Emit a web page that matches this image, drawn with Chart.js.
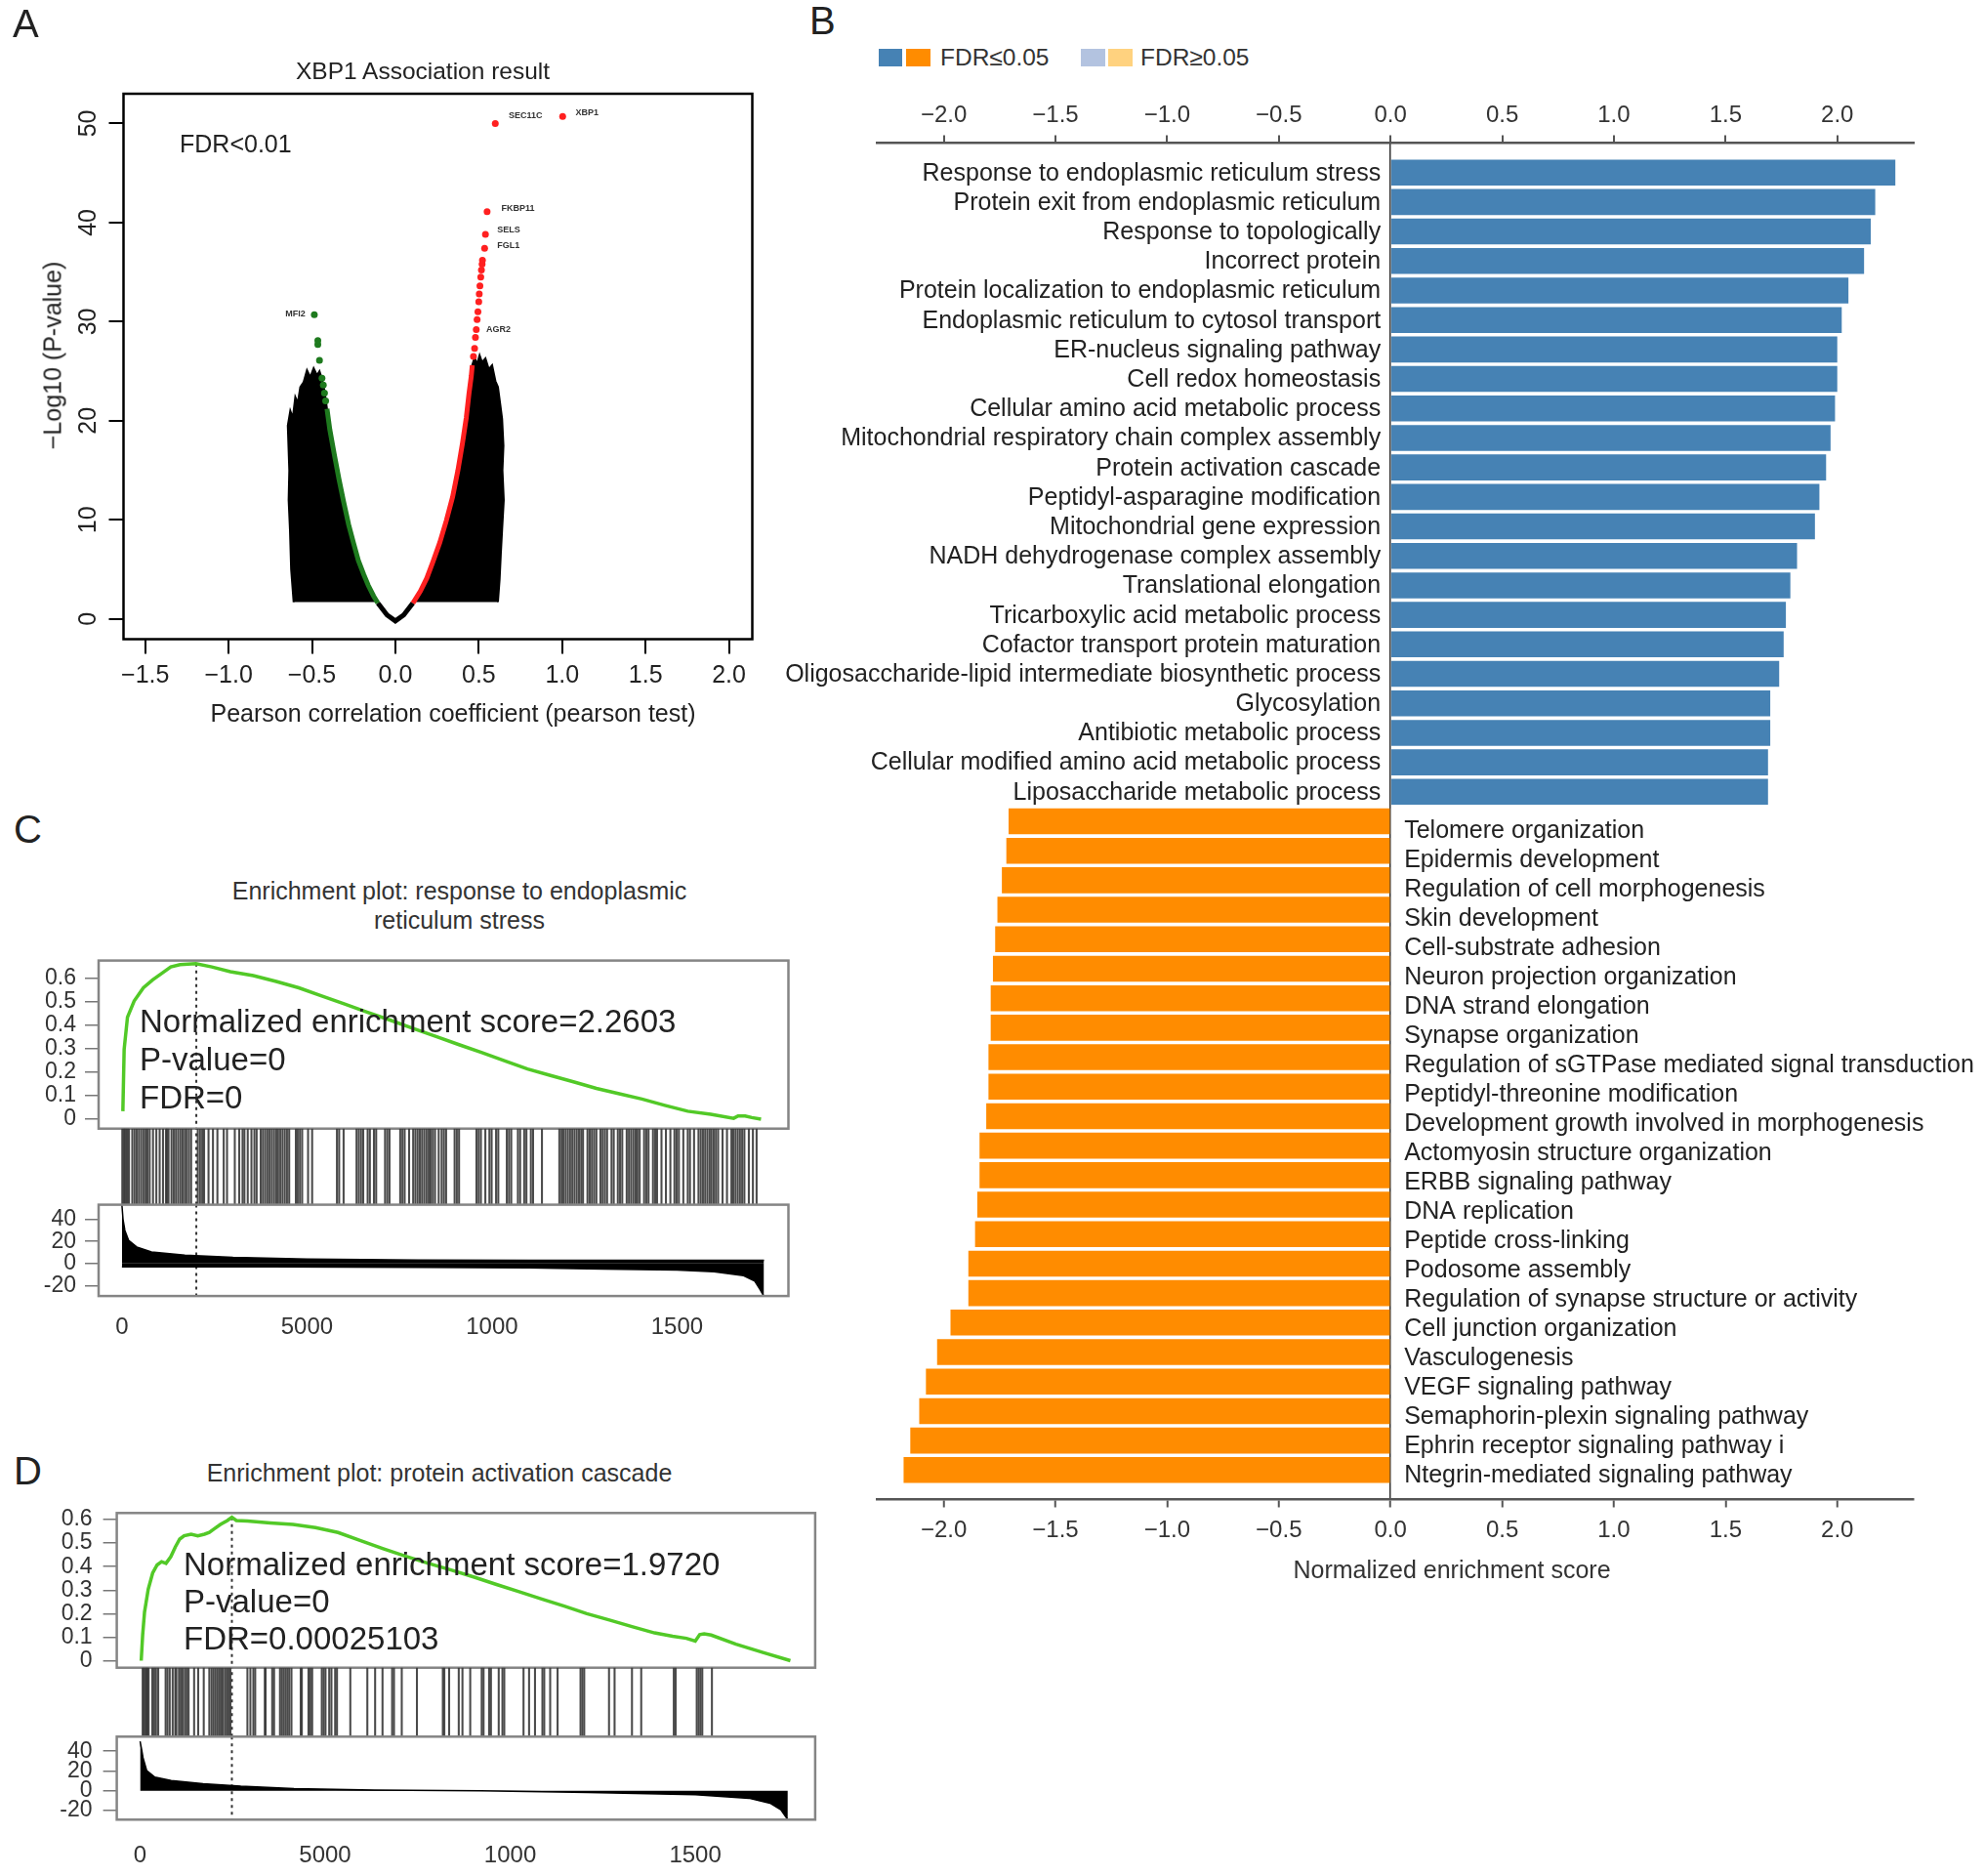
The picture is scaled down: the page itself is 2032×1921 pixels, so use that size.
<!DOCTYPE html>
<html><head><meta charset="utf-8">
<script src="https://cdn.jsdelivr.net/npm/chart.js@4.4.1/dist/chart.umd.min.js"></script>
<style>
html,body{margin:0;padding:0;background:#fff;}
#root{position:relative;width:2032px;height:1921px;overflow:hidden;background:#fff;font-family:'Liberation Sans',Arial,Helvetica,sans-serif;color:#222;}
canvas{position:absolute;}
.t{position:absolute;white-space:nowrap;line-height:1;}
.sq{position:absolute;}
</style></head><body><div id="root"></div>
<script>
// ---------------- DATA ----------------
// Panel A: volcano plot (XBP1 association)
const aXTicks = [-1.5, -1.0, -0.5, 0, 0.5, 1.0, 1.5, 2.0];
const aYTicks = [0, 10, 20, 30, 40, 50];
const aLeftCloudX = [-0.61, -0.625, -0.632, -0.64, -0.636, -0.645, -0.63, -0.615, -0.6, -0.585, -0.57, -0.55, -0.53, -0.51, -0.49, -0.47, -0.455, -0.44, -0.425, -0.41, -0.393, -0.365, -0.338, -0.31, -0.28, -0.25, -0.222, -0.19, -0.163, -0.13, -0.115];
const aLeftCloudY = [1.7, 5, 9, 12, 15, 19.5, 21, 20.3, 22.4, 21.8, 23.4, 23.9, 25.1, 24.4, 25.3, 24.6, 25.0, 24.2, 23, 21.2, 19.1, 16.5, 14.1, 11.8, 9.5, 7.6, 5.9, 4.5, 3.4, 2.3, 1.7];
const aRightCloudX = [0.115, 0.15, 0.188, 0.226, 0.266, 0.305, 0.343, 0.375, 0.402, 0.425, 0.441, 0.455, 0.461, 0.475, 0.49, 0.505, 0.52, 0.54, 0.56, 0.58, 0.60, 0.615, 0.63, 0.64, 0.648, 0.642, 0.65, 0.64, 0.632, 0.625, 0.615];
const aRightCloudY = [1.7, 2.8, 4.1, 5.8, 7.7, 9.9, 12.3, 15, 17.7, 20.3, 22.7, 24.5, 25.6, 26.4, 25.7, 26.6, 25.9, 26.3, 25.2, 25.6, 24.0, 23.4, 21.5, 20.2, 17.5, 15, 12, 9, 6.5, 4, 1.7];
const aVertexX = [-0.105, -0.05, 0, 0.05, 0.105];
const aVertexY = [1.6, 0.4, -0.2, 0.4, 1.6];
const aGreenLineX = [-0.105, -0.13, -0.163, -0.19, -0.222, -0.25, -0.28, -0.31, -0.338, -0.365, -0.393, -0.41];
const aGreenLineY = [1.6, 2.3, 3.4, 4.5, 5.9, 7.6, 9.5, 11.8, 14.1, 16.5, 19.1, 21.2];
const aGreenDotX = [-0.418, -0.425, -0.432, -0.44, -0.455, -0.465, -0.465, -0.486];
const aGreenDotY = [22.0, 22.8, 23.6, 24.3, 26.1, 27.7, 28.1, 30.7];
const aRedLineX = [0.105, 0.15, 0.188, 0.226, 0.266, 0.305, 0.343, 0.375, 0.402, 0.425, 0.441, 0.455, 0.461];
const aRedLineY = [1.6, 2.8, 4.1, 5.8, 7.7, 9.9, 12.3, 15, 17.7, 20.3, 22.7, 24.5, 25.6];
const aRedDotX = [0.468, 0.475, 0.48, 0.485, 0.49, 0.495, 0.5, 0.503, 0.507, 0.512, 0.516, 0.52, 0.522, 0.535, 0.54, 0.55, 0.599, 1.003];
const aRedDotY = [26.5, 27.3, 28.4, 29.2, 30.2, 31.0, 32.0, 32.8, 33.6, 34.5, 35.2, 35.8, 36.2, 37.4, 38.8, 41.1, 50.0, 50.7];
const aGeneNames = ['SEC11C', 'XBP1', 'FKBP11', 'SELS', 'FGL1', 'AGR2', 'MFI2'];
const aGeneX = [0.68, 1.08, 0.635, 0.61, 0.61, 0.545, -0.54];
const aGeneY = [50.8, 51.05, 41.4, 39.3, 37.7, 29.2, 30.8];

// Panel B: normalized enrichment scores
const posTerms = ['Response to endoplasmic reticulum stress', 'Protein exit from endoplasmic reticulum', 'Response to topologically', 'Incorrect protein', 'Protein localization to endoplasmic reticulum', 'Endoplasmic reticulum to cytosol transport', 'ER-nucleus signaling pathway', 'Cell redox homeostasis', 'Cellular amino acid metabolic process', 'Mitochondrial respiratory chain complex assembly', 'Protein activation cascade', 'Peptidyl-asparagine modification', 'Mitochondrial gene expression', 'NADH dehydrogenase complex assembly', 'Translational elongation', 'Tricarboxylic acid metabolic process', 'Cofactor transport protein maturation', 'Oligosaccharide-lipid intermediate biosynthetic process', 'Glycosylation', 'Antibiotic metabolic process', 'Cellular modified amino acid metabolic process', 'Liposaccharide metabolic process'];
const posNES = [2.26, 2.17, 2.15, 2.12, 2.05, 2.02, 2.00, 2.00, 1.99, 1.97, 1.95, 1.92, 1.90, 1.82, 1.79, 1.77, 1.76, 1.74, 1.70, 1.70, 1.69, 1.69];
const negTerms = ['Telomere organization', 'Epidermis development', 'Regulation of cell morphogenesis', 'Skin development', 'Cell-substrate adhesion', 'Neuron projection organization', 'DNA strand elongation', 'Synapse organization', 'Regulation of sGTPase mediated signal transduction', 'Peptidyl-threonine modification', 'Development growth involved in morphogenesis', 'Actomyosin structure organization', 'ERBB signaling pathway', 'DNA replication', 'Peptide cross-linking', 'Podosome assembly', 'Regulation of synapse structure or activity', 'Cell junction organization', 'Vasculogenesis', 'VEGF signaling pathway', 'Semaphorin-plexin signaling pathway', 'Ephrin receptor signaling pathway i', 'Ntegrin-mediated signaling pathway'];
const negNES = [-1.71, -1.72, -1.74, -1.76, -1.77, -1.78, -1.79, -1.79, -1.80, -1.80, -1.81, -1.84, -1.84, -1.85, -1.86, -1.89, -1.89, -1.97, -2.03, -2.08, -2.11, -2.15, -2.18];
const bTicks = [-2.0, -1.5, -1.0, -0.5, 0, 0.5, 1.0, 1.5, 2.0];

// Panels C & D: GSEA enrichment plots
const esTicks = [0, 0.1, 0.2, 0.3, 0.4, 0.5, 0.6];
const rankTicks = [-20, 0, 20, 40];
const rankXTicks = [0, 500, 1000, 1500];
const rankXLabels = ['0', '5000', '1000', '1500'];

const cESX = [2.5, 6, 15, 33, 58, 83, 108, 132, 157, 200, 243, 293, 355, 417, 478, 540, 602, 664, 726, 787, 849, 911, 973, 1035, 1096, 1158, 1220, 1282, 1344, 1405, 1467, 1529, 1591, 1653, 1665, 1684, 1702, 1727];
const cESY = [0.034, 0.297, 0.434, 0.503, 0.559, 0.593, 0.621, 0.648, 0.658, 0.662, 0.648, 0.628, 0.611, 0.586, 0.559, 0.524, 0.490, 0.455, 0.421, 0.386, 0.352, 0.317, 0.283, 0.248, 0.214, 0.186, 0.159, 0.131, 0.108, 0.086, 0.059, 0.034, 0.021, 0.004, 0.014, 0.014, 0.007, 0.0];
const cHits = [1,5,8,12,15,19,28,34,40,46,52,58,64,69,75,84,93,102,111,119,122,126,134,140,146,152,158,164,170,175,181,187,205,211,217,222,234,246,258,275,284,305,317,326,331,340,350,358,364,375,381,387,393,399,405,411,417,422,428,434,440,446,452,470,475,481,487,503,514,581,587,599,634,640,646,652,664,670,681,687,711,717,723,752,758,764,776,787,793,799,805,811,817,823,829,834,840,846,856,864,870,876,899,905,911,958,964,970,982,993,999,1011,1017,1040,1046,1052,1070,1076,1087,1093,1105,1111,1135,1182,1188,1193,1199,1205,1211,1217,1223,1229,1235,1241,1246,1258,1264,1270,1276,1282,1293,1299,1305,1311,1323,1329,1340,1346,1352,1364,1370,1376,1382,1388,1393,1399,1411,1417,1423,1435,1441,1446,1458,1470,1482,1493,1499,1505,1517,1529,1535,1546,1558,1564,1570,1576,1582,1588,1593,1599,1605,1611,1623,1635,1647,1652,1658,1664,1670,1676,1682,1694,1705,1715];
const cRankHighX = [0, 3, 8, 18, 40, 80, 170, 300, 500, 800, 1100, 1400, 1735];
const cRankHighY = [53, 40, 30, 21, 15, 10.5, 7.5, 5.5, 4, 3.2, 3, 3, 3];
const cRankLowX = [0, 400, 800, 1100, 1300, 1500, 1600, 1680, 1710, 1725, 1735];
const cRankLowY = [-3, -3, -3.5, -4, -5, -6, -7.5, -11, -16, -24, -30];
const cPeakX = 201, cPeakES = 0.662;

const dESX = [3, 7, 12, 22, 34, 46, 58, 70, 83, 95, 107, 119, 138, 156, 174, 187, 199, 217, 236, 248, 260, 290, 352, 413, 474, 535, 596, 657, 718, 779, 840, 901, 963, 1024, 1085, 1146, 1207, 1268, 1329, 1390, 1439, 1476, 1500, 1512, 1524, 1543, 1610, 1683, 1757];
const dESY = [0.0, 0.111, 0.207, 0.304, 0.373, 0.407, 0.421, 0.414, 0.442, 0.483, 0.517, 0.531, 0.538, 0.531, 0.538, 0.545, 0.559, 0.579, 0.596, 0.610, 0.596, 0.594, 0.586, 0.579, 0.566, 0.545, 0.510, 0.476, 0.444, 0.414, 0.386, 0.356, 0.324, 0.293, 0.262, 0.232, 0.200, 0.173, 0.145, 0.118, 0.104, 0.095, 0.083, 0.111, 0.114, 0.109, 0.070, 0.035, 0.0];
const dHits = [7,10,14,17,20,23,33,38,43,49,69,74,80,88,95,98,105,110,115,121,126,131,146,157,172,187,193,198,203,208,213,218,223,229,234,239,244,290,298,306,311,337,339,357,362,378,383,388,393,398,403,409,434,437,455,460,465,491,496,501,511,517,527,532,568,614,635,655,681,686,707,748,818,822,835,861,871,892,923,928,943,948,969,979,984,1036,1051,1067,1087,1092,1108,1128,1190,1195,1200,1267,1282,1329,1354,1442,1447,1504,1509,1514,1519,1545];
const dRankX = [0, 4, 8, 18, 40, 84, 170, 272, 416, 633, 922, 1211, 1500, 1645, 1702, 1731, 1750];
const dRankY = [50, 42, 33.4, 20.3, 13.8, 10.5, 7.2, 4.6, 2.3, 0.7, 0, -1.6, -4, -7.5, -12.5, -19, -29];
const dPeakX = 248, dPeakES = 0.61;

// ---------------- HELPERS ----------------
Chart.defaults.font.family = "'Liberation Sans', Arial, Helvetica, sans-serif";
Chart.defaults.color = '#222';
const root = document.getElementById('root');
function mkCanvas(x, y, w, h) {
  const c = document.createElement('canvas');
  c.width = w; c.height = h;
  c.style.left = x + 'px'; c.style.top = y + 'px';
  c.style.width = w + 'px'; c.style.height = h + 'px';
  root.appendChild(c);
  return c;
}
function txt(s, x, y, size, align, opts) {
  opts = opts || {};
  const d = document.createElement('div');
  d.className = 't';
  d.textContent = s;
  d.style.fontSize = size + 'px';
  d.style.left = x + 'px'; d.style.top = y + 'px';
  let tf = align === 'center' ? 'translate(-50%,-50%)' : (align === 'right' ? 'translate(-100%,-50%)' : 'translateY(-50%)');
  if (opts.rotate) tf += ' rotate(-90deg)';
  d.style.transform = tf;
  if (opts.color) d.style.color = opts.color;
  root.appendChild(d);
}
function sq(x, y, w, h, color) {
  const d = document.createElement('div');
  d.className = 'sq';
  Object.assign(d.style, {left: x + 'px', top: y + 'px', width: w + 'px', height: h + 'px', background: color});
  root.appendChild(d);
}
const zip = (xs, ys) => xs.map((x, i) => ({x: x, y: ys[i]}));
const fixTicks = arr => (s => { s.ticks = arr.map(v => ({value: v})); });
const noPad = s => { s.paddingTop = 0; s.paddingBottom = 0; s.paddingLeft = 0; s.paddingRight = 0; };
const fixW = w => (s => { s.width = w; noPad(s); });
const fixH = h => (s => { s.height = h; noPad(s); });
const minusFmt = v => (v < 0 ? '\u2212' : '') + Math.abs(v).toFixed(1);
const base = {responsive: false, maintainAspectRatio: false, animation: false, devicePixelRatio: 1, events: []};
const noPlug = {legend: {display: false}, tooltip: {enabled: false}, title: {display: false}};

const framePlugin = {
  id: 'frame',
  afterDatasetsDraw(chart, args, o) {
    if (!o || !o.color) return;
    const a = chart.chartArea, ctx = chart.ctx;
    ctx.save(); ctx.strokeStyle = o.color; ctx.lineWidth = o.width || 2;
    ctx.strokeRect(a.left, a.top, a.right - a.left, a.bottom - a.top);
    ctx.restore();
  }
};

// ---------------- PANEL A ----------------
const geneLabelPlugin = {
  id: 'geneLabels',
  afterDatasetsDraw(chart) {
    const ctx = chart.ctx, xs = chart.scales.x, ys = chart.scales.y;
    ctx.save();
    ctx.font = "bold 9px 'Liberation Sans', Arial, sans-serif";
    ctx.fillStyle = '#333'; ctx.textBaseline = 'middle';
    aGeneNames.forEach((n, i) => {
      ctx.textAlign = aGeneX[i] < 0 ? 'right' : 'left';
      ctx.fillText(n, xs.getPixelForValue(aGeneX[i]), ys.getPixelForValue(aGeneY[i]));
    });
    ctx.restore();
  }
};
const GREEN_A = '#1e7a1e', RED_A = '#ff2020';
new Chart(mkCanvas(0, 40, 800, 720), {
  type: 'line',
  data: {datasets: [
    {data: zip(aLeftCloudX, aLeftCloudY), order: 10, fill: 'shape', backgroundColor: '#000', borderColor: '#000', borderWidth: 2, pointRadius: 0},
    {data: zip(aRightCloudX, aRightCloudY), order: 10, fill: 'shape', backgroundColor: '#000', borderColor: '#000', borderWidth: 2, pointRadius: 0},
    {data: zip(aVertexX, aVertexY), order: 5, borderColor: '#000', borderWidth: 5, pointRadius: 0, fill: false},
    {data: zip(aGreenLineX, aGreenLineY), order: 2, borderColor: GREEN_A, borderWidth: 5, pointRadius: 0, fill: false},
    {data: zip(aRedLineX, aRedLineY), order: 2, borderColor: RED_A, borderWidth: 5, pointRadius: 0, fill: false},
    {data: zip(aGreenDotX, aGreenDotY), order: 1, showLine: false, pointRadius: 3.5, pointBackgroundColor: GREEN_A, pointBorderWidth: 0},
    {data: zip(aRedDotX, aRedDotY), order: 1, showLine: false, pointRadius: 3.5, pointBackgroundColor: RED_A, pointBorderWidth: 0}
  ]},
  options: Object.assign({}, base, {
    layout: {padding: {left: 0, right: 29.5, top: 56, bottom: 0}},
    plugins: Object.assign({}, noPlug, {frame: {color: '#000', width: 2.5}}),
    scales: {
      x: {type: 'linear', min: -1.63, max: 2.14, afterFit: fixH(105.5), afterBuildTicks: fixTicks(aXTicks),
          ticks: {font: {size: 25}, color: '#222', padding: 8, autoSkip: false, maxRotation: 0, callback: minusFmt},
          grid: {drawOnChartArea: false, drawTicks: true, tickLength: 15, color: '#000', lineWidth: 2}, border: {display: false}},
      y: {type: 'linear', min: -2.04, max: 53.0, afterFit: fixW(126.5), afterBuildTicks: fixTicks(aYTicks),
          ticks: {font: {size: 25}, color: '#222', padding: 6, autoSkip: false, minRotation: 90, maxRotation: 90, crossAlign: 'center', callback: v => String(v)},
          grid: {drawOnChartArea: false, drawTicks: true, tickLength: 15, color: '#000', lineWidth: 2}, border: {display: false}}
    }
  }),
  plugins: [framePlugin, geneLabelPlugin]
});

// ---------------- PANEL B ----------------
const BLUE = '#4682b4', ORANGE = '#ff8c00', LBLUE = '#b3c3e0', LORANGE = '#ffd27f';
const bLabels = [''].concat(posTerms, negTerms, ['']);
const bValues = [null].concat(posNES, negNES, [null]);
const bColors = bValues.map(v => v == null ? 'rgba(0,0,0,0)' : (v > 0 ? BLUE : ORANGE));
const barLabelPlugin = {
  id: 'barLabels',
  afterDatasetsDraw(chart) {
    const ctx = chart.ctx, xs = chart.scales.x, ys = chart.scales.y;
    const x0 = xs.getPixelForValue(0);
    ctx.save();
    ctx.font = "25px 'Liberation Sans', Arial, sans-serif";
    ctx.fillStyle = '#222'; ctx.textBaseline = 'middle';
    let k = 0;
    bLabels.forEach((lab, i) => {
      const v = bValues[i];
      if (v == null) return;
      const yp = ys.getPixelForValue(i);
      if (v > 0) { ctx.textAlign = 'right'; ctx.fillText(lab, x0 - 10, yp + 1); }
      else { ctx.textAlign = 'left'; ctx.fillText(lab, x0 + 14, yp + 10 - 4 * (k / 22)); k++; }
    });
    ctx.restore();
  }
};
new Chart(mkCanvas(770, 80, 1262, 1560), {
  type: 'bar',
  data: {labels: bLabels, datasets: [{data: bValues, backgroundColor: bColors, borderWidth: 0, barPercentage: 0.88, categoryPercentage: 1.0}]},
  options: Object.assign({}, base, {
    indexAxis: 'y',
    layout: {padding: {left: 128, right: 72.5, top: 0, bottom: 0}},
    plugins: noPlug,
    scales: {
      y: {type: 'category', display: false, offset: false},
      x: {type: 'linear', position: 'bottom', min: -2.3, max: 2.34, afterFit: fixH(104.5), afterBuildTicks: fixTicks(bTicks),
          ticks: {font: {size: 24}, color: '#333', padding: 9, autoSkip: false, maxRotation: 0, callback: minusFmt},
          grid: {drawOnChartArea: true, drawTicks: true, tickLength: 8, tickColor: '#555', tickWidth: 2,
                 color: c => (c.tick && c.tick.value === 0) ? '#333' : 'rgba(0,0,0,0)', lineWidth: 1.5},
          border: {display: true, color: '#555', width: 2.5}},
      x2: {type: 'linear', position: 'top', min: -2.3, max: 2.34, afterFit: fixH(66.5), afterBuildTicks: fixTicks(bTicks),
          ticks: {font: {size: 24}, color: '#333', padding: 6, autoSkip: false, maxRotation: 0, callback: minusFmt},
          grid: {drawOnChartArea: false, drawTicks: true, tickLength: 8, color: '#555', lineWidth: 2},
          border: {display: true, color: '#555', width: 2.5}}
    }
  }),
  plugins: [barLabelPlugin]
});

// ---------------- PANELS C & D ----------------
const ES_GREEN = '#52c927', BOX = '#858585';
function gsea(cfg) {
  const dotted = {borderColor: '#333', borderWidth: 2, borderDash: [3, 4], pointRadius: 0, fill: false};
  // running enrichment score
  new Chart(mkCanvas(0, cfg.esTop, cfg.w, cfg.esH), {
    type: 'line',
    data: {datasets: [
      {data: zip(cfg.esX, cfg.esY), borderColor: ES_GREEN, borderWidth: 3.5, pointRadius: 0, fill: false},
      Object.assign({data: [{x: cfg.peakX, y: cfg.peakES}, {x: cfg.peakX, y: cfg.esMin}]}, dotted)
    ]},
    options: Object.assign({}, base, {
      layout: {padding: {left: 0, right: cfg.padR, top: cfg.esPadT, bottom: cfg.esPadB}},
      plugins: Object.assign({}, noPlug, {frame: {color: BOX, width: 2.5}}),
      scales: {
        x: {type: 'linear', display: false, min: cfg.xMin, max: cfg.xMax, afterFit: noPad},
        y: {type: 'linear', min: cfg.esMin, max: cfg.esMax, afterFit: fixW(cfg.left), afterBuildTicks: fixTicks(esTicks),
            ticks: {font: {size: 23}, color: '#333', padding: cfg.yPad, autoSkip: false},
            grid: {drawOnChartArea: false, drawTicks: true, tickLength: 14, color: '#777', lineWidth: 1.5}, border: {display: false}}
      }
    }),
    plugins: [framePlugin]
  });
  // hit barcode
  new Chart(mkCanvas(0, cfg.bcTop, cfg.w, cfg.bcH), {
    type: 'bar',
    data: {datasets: [
      {type: 'bar', data: cfg.hits.map(h => ({x: h, y: 1})), backgroundColor: 'rgba(55,55,55,0.9)', barThickness: 1.4, borderWidth: 0},
      Object.assign({type: 'line', data: [{x: cfg.peakX, y: 0}, {x: cfg.peakX, y: 1}]}, dotted)
    ]},
    options: Object.assign({}, base, {
      layout: {padding: {left: cfg.left, right: cfg.padR, top: cfg.bcPadT, bottom: cfg.bcPadB}},
      plugins: noPlug,
      scales: {
        x: {type: 'linear', display: false, min: cfg.xMin, max: cfg.xMax, offset: false, afterFit: noPad},
        y: {type: 'linear', display: false, min: 0, max: 1, afterFit: noPad}
      }
    })
  });
  // ranked list metric
  const rankSets = cfg.rankSets.map(s => ({data: s, fill: 'origin', backgroundColor: '#000', borderColor: '#000', borderWidth: 1.5, pointRadius: 0}));
  rankSets.push(Object.assign({data: [{x: cfg.peakX, y: cfg.rMax}, {x: cfg.peakX, y: cfg.rMin}]}, dotted));
  new Chart(mkCanvas(0, cfg.rkTop, cfg.w, cfg.rkH), {
    type: 'line',
    data: {datasets: rankSets},
    options: Object.assign({}, base, {
      layout: {padding: {left: 0, right: cfg.padR, top: cfg.rkPadT, bottom: 0}},
      plugins: Object.assign({}, noPlug, {frame: {color: BOX, width: 2.5}}),
      scales: {
        x: {type: 'linear', min: cfg.xMin, max: cfg.xMax, afterFit: fixH(cfg.rkAxisH), afterBuildTicks: fixTicks(rankXTicks),
            ticks: {font: {size: 24}, color: '#333', padding: cfg.xPad, autoSkip: false, maxRotation: 0,
                    callback: v => rankXLabels[rankXTicks.indexOf(v)]},
            grid: {drawOnChartArea: false, drawTicks: false}, border: {display: false}},
        y: {type: 'linear', min: cfg.rMin, max: cfg.rMax, afterFit: fixW(cfg.left), afterBuildTicks: fixTicks(rankTicks),
            ticks: {font: {size: 23}, color: '#333', padding: cfg.yPad, autoSkip: false},
            grid: {drawOnChartArea: false, drawTicks: true, tickLength: 14, color: '#777', lineWidth: 1.5}, border: {display: false}}
      }
    }),
    plugins: [framePlugin]
  });
}

gsea({
  w: 840, left: 101, padR: 32.5, xMin: -63, xMax: 1801, yPad: 9,
  esTop: 975, esH: 185, esPadT: 8.6, esPadB: 4.3, esMin: -0.04, esMax: 0.675,
  esX: cESX, esY: cESY, peakX: cPeakX, peakES: cPeakES,
  bcTop: 1150, bcH: 90, bcPadT: 5.7, bcPadB: 6.4, hits: cHits,
  rkTop: 1228, rkH: 162, rkPadT: 5.6, rkAxisH: 62.9, xPad: 17.8, rMin: -29.5, rMax: 53.3,
  rankSets: [zip(cRankHighX, cRankHighY), zip(cRankLowX, cRankLowY)]
});
gsea({
  w: 860, left: 119.6, padR: 25.1, xMin: -63, xMax: 1824, yPad: 11,
  esTop: 1540, esH: 175, esPadT: 9.3, esPadB: 7.3, esMin: -0.03, esMax: 0.628,
  esX: dESX, esY: dESY, peakX: dPeakX, peakES: dPeakES,
  bcTop: 1700, bcH: 85, bcPadT: 7.7, bcPadB: 6.7, hits: dHits,
  rkTop: 1773, rkH: 148, rkPadT: 5.3, rkAxisH: 57.7, xPad: 22.3, rMin: -29.1, rMax: 54.7,
  rankSets: [zip(dRankX, dRankY)]
});

// ---------------- TEXT ----------------
txt('A', 13, 24, 40, 'left');
txt('B', 829, 21, 40, 'left');
txt('C', 14, 849, 40, 'left');
txt('D', 14, 1506, 40, 'left');
txt('XBP1 Association result', 433, 73, 24.5, 'center', {color: '#222'});
txt('FDR<0.01', 184, 146.5, 25, 'left');
txt('Pearson correlation coefficient (pearson test)', 464, 729.5, 25, 'center');
txt('\u2212Log10 (P-value)', 53.6, 363.6, 25, 'center', {rotate: true});
txt('Normalized enrichment score', 1487, 1607, 25, 'center', {color: '#333'});
sq(900, 50, 24, 18, BLUE); sq(928, 50, 25, 18, ORANGE);
txt('FDR\u22640.05', 963, 59, 24.5, 'left', {color: '#333'});
sq(1107, 50, 25, 18, LBLUE); sq(1135, 50, 25, 18, LORANGE);
txt('FDR\u22650.05', 1168, 59, 24.5, 'left', {color: '#333'});
txt('Enrichment plot: response to endoplasmic', 470.5, 912, 25, 'center', {color: '#333'});
txt('reticulum stress', 470.5, 942, 25, 'center', {color: '#333'});
txt('Normalized enrichment score=2.2603', 143, 1045, 33, 'left');
txt('P-value=0', 143, 1084, 33, 'left');
txt('FDR=0', 143, 1123, 33, 'left');
txt('Enrichment plot: protein activation cascade', 450, 1508, 25, 'center', {color: '#333'});
txt('Normalized enrichment score=1.9720', 188, 1601, 33, 'left');
txt('P-value=0', 188, 1639, 33, 'left');
txt('FDR=0.00025103', 188, 1677, 33, 'left');
</script></body></html>
